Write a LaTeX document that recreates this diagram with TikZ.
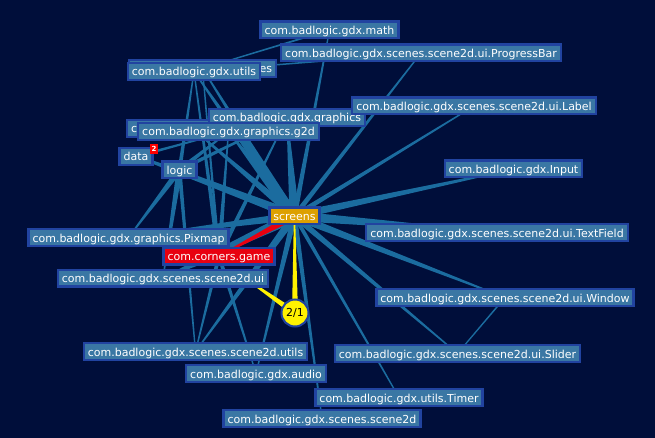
\documentclass[tikz,border=0pt]{standalone}
\usepackage{fontspec}
\setmainfont{DejaVu Sans}
\usetikzlibrary{calc}
\definecolor{bgc}{HTML}{000E3A}
\definecolor{boxfill}{HTML}{3A77A4}
\definecolor{boxline}{HTML}{2143A0}
\definecolor{edgec}{HTML}{1B6C9F}
\definecolor{hubfill}{HTML}{DDA000}
\definecolor{gamefill}{HTML}{E80010}
\definecolor{aggc}{HTML}{FFF200}
\pgfdeclarelayer{bglayer}\pgfdeclarelayer{edgelayer}\pgfsetlayers{bglayer,edgelayer,main}
% wedge-shaped connector: wide at #2, narrow at #3
\newcommand\spoke[4][edgec]{\fill[#1] ($(#2.center)!#4!90:(#3.center)$) -- ($(#3.center)!0.6pt!-90:(#2.center)$) -- ($(#3.center)!0.6pt!90:(#2.center)$) -- ($(#2.center)!#4!-90:(#3.center)$) -- cycle;}
\begin{document}
\begin{tikzpicture}[x=1pt,y=-1pt,
  box/.style={draw=boxline, line width=2.4pt, fill=boxfill, text=white,
    font=\fontsize{11}{13}\selectfont, inner xsep=4pt, inner ysep=0pt,
    minimum height=16.6pt, text height=9pt, text depth=0pt}]
\begin{pgfonlayer}{bglayer}
  \fill[bgc] (0,0) rectangle (655,438);
\end{pgfonlayer}
\useasboundingbox (0,0) rectangle (655,438);

% nodes
\node[box] (math) at (329.5,30) {com.badlogic.gdx.math};
\node[box] (pbar) at (421,53) {com.badlogic.gdx.scenes.scene2d.ui.ProgressBar};
\node[box, text width=139pt, align=right] (scn) at (202.5,68.5) {es};
\node[box] (utils) at (194,71.5) {com.badlogic.gdx.utils};
\node[box, text width=123pt, align=left] (gdx) at (192.5,128.5) {c};
\node[box] (graphics) at (287,117.5) {com.badlogic.gdx.graphics};
\node[box] (label) at (474,106) {com.badlogic.gdx.scenes.scene2d.ui.Label};
\node[box] (g2d) at (228.5,131.5) {com.badlogic.gdx.graphics.g2d};
\node[box] (data) at (136,156.5) {data};
\node[fill=red, inner sep=0pt, minimum width=8pt, minimum height=10pt, text=white,
  font=\fontsize{7}{7}\selectfont\bfseries] (badge) at (154,149) {2};
\node[box] (logic) at (179.5,170) {logic};
\node[box] (input) at (513.5,169) {com.badlogic.gdx.Input};
\node[box, fill=hubfill] (screens) at (294.5,216) {screens};
\node[box] (pixmap) at (128.5,237.5) {com.badlogic.gdx.graphics.Pixmap};
\node[box] (textfield) at (497,232.5) {com.badlogic.gdx.scenes.scene2d.ui.TextField};
\node[box, fill=gamefill] (game) at (219,256) {com.corners.game};
\node[box] (ui) at (163,278) {com.badlogic.gdx.scenes.scene2d.ui};
\node[box] (window) at (505,297.5) {com.badlogic.gdx.scenes.scene2d.ui.Window};
\node[circle, fill=aggc, draw=boxline, line width=2pt, minimum size=27pt, inner sep=0pt,
  font=\fontsize{11}{13}\selectfont, text=black] (agg) at (295,313) {2/1};
\node[box] (sutils) at (195.5,351.5) {com.badlogic.gdx.scenes.scene2d.utils};
\node[box] (slider) at (457.5,353.5) {com.badlogic.gdx.scenes.scene2d.ui.Slider};
\node[box] (audio) at (256,373.5) {com.badlogic.gdx.audio};
\node[box] (timer) at (399,397.5) {com.badlogic.gdx.utils.Timer};
\node[box] (scene2d) at (322,418.5) {com.badlogic.gdx.scenes.scene2d};
\coordinate (uiport) at ($(ui.center)!0.77!(ui.east)$);

% connectors
\begin{pgfonlayer}{edgelayer}
  % spokes from the hub
  \spoke{screens}{math}{2.5pt}
  \spoke{screens}{pbar}{2.5pt}
  \spoke{screens}{label}{2.5pt}
  \spoke{screens}{input}{4pt}
  \spoke{screens}{textfield}{5pt}
  \spoke{screens}{window}{4pt}
  \spoke{screens}{slider}{3pt}
  \spoke{screens}{timer}{2pt}
  \spoke{screens}{scene2d}{2.5pt}
  \spoke{screens}{audio}{3pt}
  \spoke{screens}{sutils}{4pt}
  \spoke{screens}{ui}{6pt}
  \spoke{screens}{pixmap}{4pt}
  \spoke{screens}{logic}{5pt}
  \spoke{screens}{data}{4pt}
  \spoke{screens}{g2d}{6pt}
  \spoke{screens}{graphics}{5pt}
  \spoke{screens}{utils}{5pt}
  \spoke{screens}{scn}{4pt}
  \spoke{screens}{gdx}{4pt}
  % secondary connectors
  \spoke{logic}{pixmap}{3pt}
  \spoke{logic}{ui}{3pt}
  \spoke{logic}{sutils}{2pt}
  \spoke{logic}{utils}{2pt}
  \spoke{logic}{g2d}{2.5pt}
  \spoke{logic}{graphics}{2pt}
  \spoke{data}{logic}{1.5pt}
  \spoke{data}{g2d}{1.5pt}
  \spoke{game}{utils}{2.5pt}
  \spoke{game}{graphics}{2.5pt}
  \spoke{game}{g2d}{2.5pt}
  \spoke{game}{scn}{1.5pt}
  \spoke{game}{sutils}{2pt}
  \spoke{game}{audio}{2pt}
  \spoke{game}{ui}{1.5pt}
  \spoke{pbar}{utils}{1pt}
  \spoke{math}{scn}{1pt}
  \spoke{window}{slider}{0.8pt}
  % highlighted connectors
  \spoke[gamefill]{screens}{game}{3.5pt}
  \spoke[aggc]{agg}{screens}{3pt}
  \spoke[aggc]{agg}{uiport}{3pt}
\end{pgfonlayer}
\end{tikzpicture}
\end{document}
